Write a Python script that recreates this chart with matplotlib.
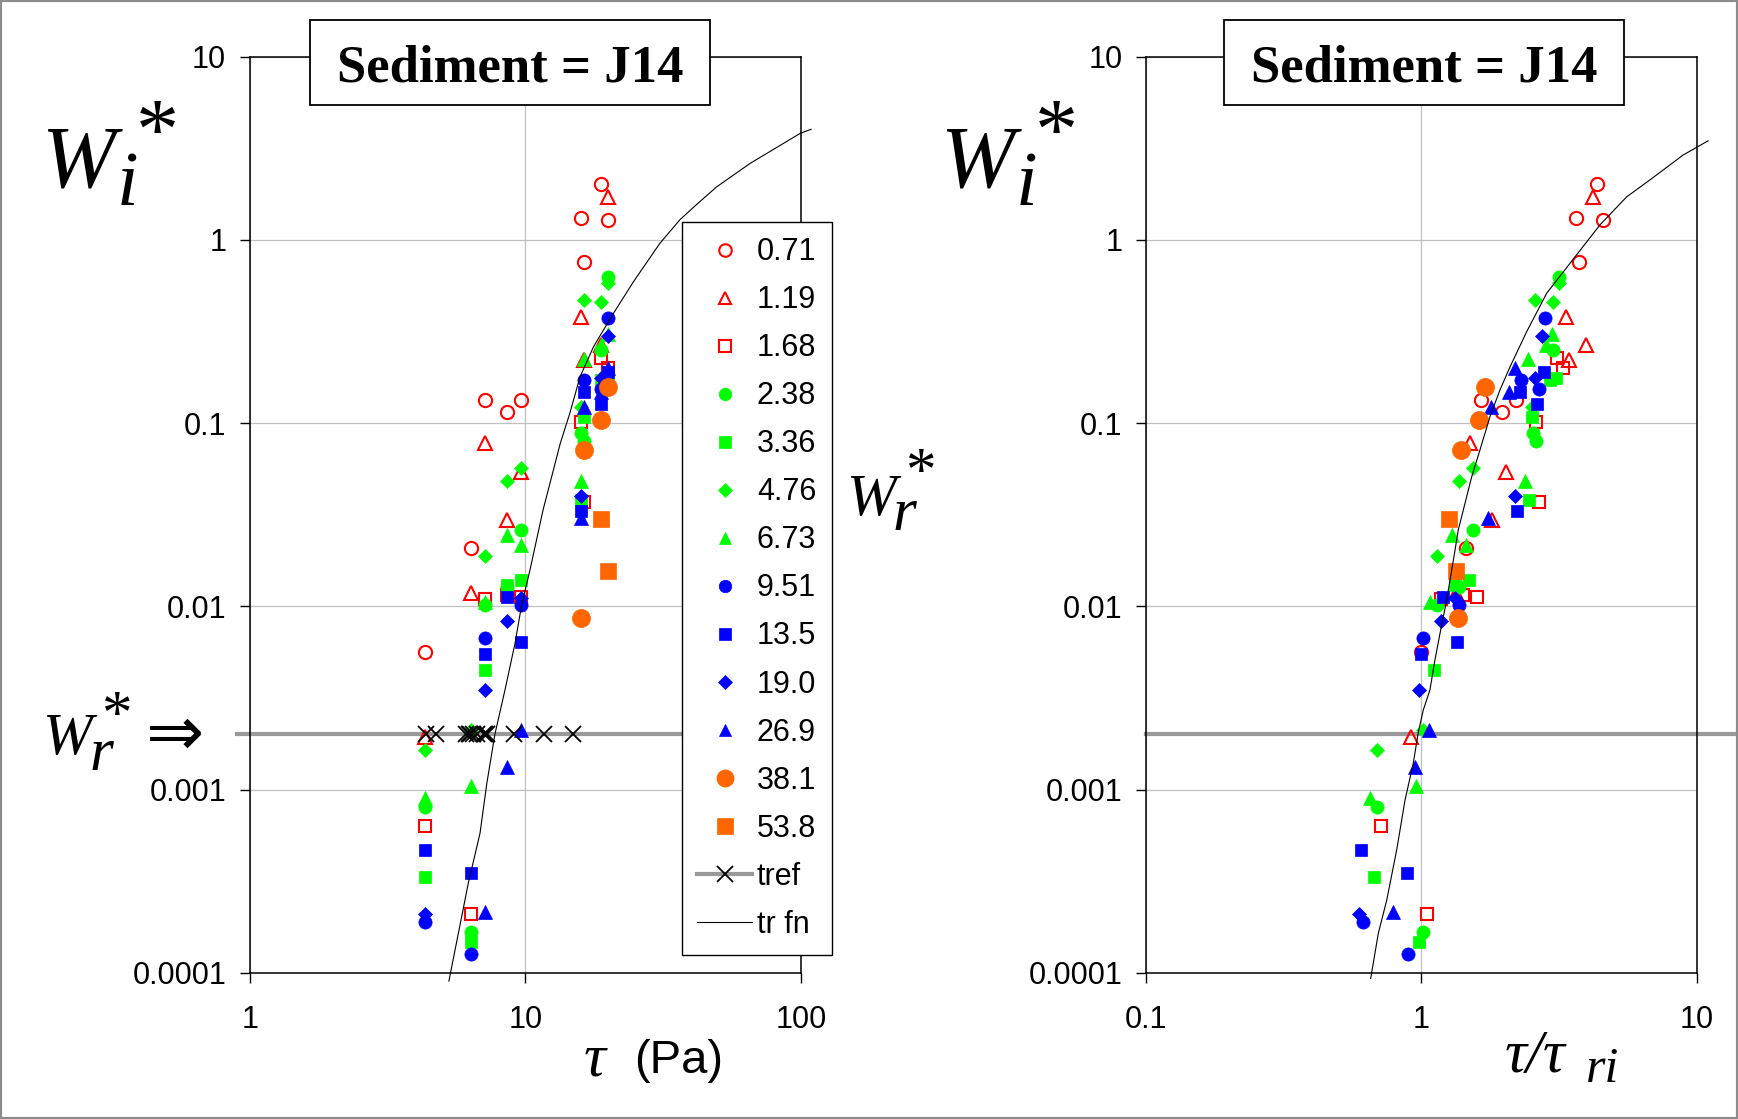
import numpy as np
import matplotlib.pyplot as plt
from matplotlib.lines import Line2D
from matplotlib.patches import Rectangle
from matplotlib.ticker import FixedLocator, FixedFormatter, NullLocator

W_PX, H_PX, DPI = 1738, 1119, 100

nan = np.nan

# bed shear stress of each flume run (Pa)
run_tau = [4.34, 6.35, 7.16, 8.58, 9.65, 15.9, 16.3, 18.9, 19.9]

# size fractions (mm) and reference shear stress of each fraction (Pa)
sizes = ["0.71", "1.19", "1.68", "2.38", "3.36", "4.76", "6.73",
         "9.51", "13.5", "19.0", "26.9", "38.1", "53.8"]
tau_ri = [4.36, 4.75, 6.07, 6.27, 6.46, 6.28, 6.66,
          7.07, 7.16, 7.28, 9.07, 11.7, 14.94]

# dimensionless transport rate Wi* per fraction, one value per run
W_071 = [0.00562, 0.0208, 0.134, 0.115, 0.134, 1.31, 0.755, 2.02, 1.29]
W_119 = [0.00194, 0.0118, 0.0783, 0.0296, 0.0543, 0.381, 0.221, 0.267, 1.72]
W_168 = [0.000633, 0.000208, 0.0109, 0.0115, 0.0113, 0.102, 0.037, 0.226, 0.1995]
W_238 = [0.000807, 0.000166, 0.0102, 0.0128, 0.0261, 0.088, 0.080, 0.251, 0.630]
W_336 = [0.000335, 0.000148, 0.0045, 0.0131, 0.0139, 0.038, 0.108, 0.172, 0.176]
W_476 = [0.00164, 0.00211, 0.0188, 0.0485, 0.0567, 0.123, 0.470, 0.460, 0.58]
W_673 = [0.000896, 0.00104, 0.0106, 0.0245, 0.0216, 0.0484, 0.223, 0.267, 0.307]
W_951 = [0.000188, 0.000126, 0.0067, nan, 0.0102, nan, 0.172, 0.153, 0.374]
W_135 = [0.00047, 0.00035, 0.0055, 0.0113, 0.0064, 0.033, 0.148, 0.127, 0.19]
W_190 = [0.00021, nan, 0.0035, 0.0083, 0.0111, 0.040, nan, 0.176, 0.30]
W_269 = [nan, nan, 0.000215, 0.00132, 0.0021, 0.0303, 0.123, 0.1485, 0.1995]
W_381 = [nan, nan, nan, nan, nan, 0.0086, 0.0714, 0.104, 0.157]
W_538 = [nan, nan, nan, nan, nan, nan, nan, 0.030, 0.0155]
W_all = [W_071, W_119, W_168, W_238, W_336, W_476, W_673,
         W_951, W_135, W_190, W_269, W_381, W_538]

# reference transport rate
W_ref = 0.002

# transport function, drawn against tau (Pa)
trfn_tau = [5.28, 6.21, 6.85, 7.25, 7.76, 8.44, 9.18, 9.70, 10.4, 11.6, 13.4,
            14.5, 15.8, 17.7, 20.9, 24.7, 30.8, 36.4, 43.0, 49.5, 65.5, 99.5, 109]
trfn_W_tau = [9.0e-5, 3.08e-4, 5.78e-4, 1.08e-3, 2.01e-3, 3.5e-3, 6.3e-3, 0.0102,
              0.0158, 0.0336, 0.0777, 0.113, 0.179, 0.262, 0.398, 0.592, 0.959,
              1.29, 1.62, 1.95, 2.62, 3.82, 4.02]

# transport function, drawn against tau/tau_ri
trfn_phi = [0.655, 0.698, 0.749, 0.814, 0.873, 0.935, 0.975, 1.017, 1.075, 1.121,
            1.169, 1.236, 1.326, 1.362, 1.441, 1.524, 1.633, 1.776, 1.931, 2.10,
            2.414, 2.853, 3.467, 4.456, 5.57, 6.77, 8.93, 11.0]
trfn_W_phi = [9.3e-5, 1.64e-4, 2.49e-4, 4.68e-4, 8.77e-4, 1.39e-3, 2.05e-3, 2.72e-3,
              3.5e-3, 5.1e-3, 7.1e-3, 0.0108, 0.0203, 0.0261, 0.0365, 0.051, 0.0714,
              0.1086, 0.152, 0.203, 0.316, 0.512, 0.746, 1.21, 1.72, 2.13, 2.91, 3.48]

RED, GREEN, BLUE, ORANGE = "#FF0000", "#00FF00", "#0000FF", "#FF6600"
# marker, colour, filled, size (pt)
styles = [
    ("o", RED, False, 9.5), ("^", RED, False, 9.5), ("s", RED, False, 9.0),
    ("o", GREEN, True, 9.5), ("s", GREEN, True, 9.0), ("D", GREEN, True, 7.0),
    ("^", GREEN, True, 9.5),
    ("o", BLUE, True, 9.5), ("s", BLUE, True, 9.0), ("D", BLUE, True, 7.0),
    ("^", BLUE, True, 9.5),
    ("o", ORANGE, True, 13.0), ("s", ORANGE, True, 12.0),
]

SANS = "Liberation Sans"
SERIF = "Liberation Serif"
plt.rcParams["font.family"] = [SANS, "DejaVu Sans"]


def fx(px):
    return px / W_PX


def fy(py):
    return 1 - py / H_PX


fig = plt.figure(figsize=(W_PX / DPI, H_PX / DPI), dpi=DPI)
fig.patch.set_facecolor("white")

ax1 = fig.add_axes([fx(249.8), fy(972.7), fx(800.8) - fx(249.8), fy(56.8) - fy(972.7)])
ax2 = fig.add_axes([fx(1145.9), fy(972.7), fx(1696.7) - fx(1145.9), fy(56.8) - fy(972.7)])


def style_axes(ax, xlim, xticks, xlabels):
    ax.set_xscale("log")
    ax.set_yscale("log")
    ax.set_xlim(*xlim)
    ax.set_ylim(1e-4, 10)
    ax.xaxis.set_major_locator(FixedLocator(xticks))
    ax.xaxis.set_major_formatter(FixedFormatter(xlabels))
    ax.yaxis.set_major_locator(FixedLocator([1e-4, 1e-3, 1e-2, 1e-1, 1, 10]))
    ax.yaxis.set_major_formatter(FixedFormatter(["0.0001", "0.001", "0.01", "0.1", "1", "10"]))
    ax.xaxis.set_minor_locator(NullLocator())
    ax.yaxis.set_minor_locator(NullLocator())
    ax.tick_params(direction="out", length=7, width=1.0, labelsize=22)
    ax.tick_params(axis="y", pad=10)
    ax.tick_params(axis="x", pad=16)
    ax.grid(True, color="#c0c0c0", linewidth=0.9)
    ax.set_axisbelow(True)
    for s in ax.spines.values():
        s.set_linewidth(1.1)
        s.set_color("black")


style_axes(ax1, (1, 100), [1, 10, 100], ["1", "10", "100"])
style_axes(ax2, (0.1, 10), [0.1, 1, 10], ["0.1", "1", "10"])

tau = np.array(run_tau)
handles = []
for k, (lab, wv) in enumerate(zip(sizes, W_all)):
    m, c, filled, ms = styles[k]
    kw = dict(linestyle="none", marker=m, markersize=ms, zorder=3 + k * 0.01)
    if filled:
        kw.update(markerfacecolor=c, markeredgecolor=c, markeredgewidth=0.5)
    else:
        kw.update(markerfacecolor="none", markeredgecolor=c, markeredgewidth=1.5)
    wv = np.array(wv)
    h, = ax1.plot(tau, wv, label=lab, **kw)
    ax2.plot(tau / tau_ri[k], wv, **kw)
    handles.append(h)

# reference level and reference stresses
ax1.plot([0.9, 100], [W_ref, W_ref], color="#999999", lw=3, zorder=2.5, clip_on=False)
ax1.plot(tau_ri, [W_ref] * len(tau_ri), linestyle="none", marker="x", color="black",
         markersize=12, markeredgewidth=1.3, zorder=3.5)
ax2.plot([0.1, 15], [W_ref, W_ref], color="#999999", lw=3, zorder=2.5, clip_on=False)

# transport function
ax1.plot(trfn_tau, trfn_W_tau, color="black", lw=0.8, zorder=4, clip_on=False)
ax2.plot(trfn_phi, trfn_W_phi, color="black", lw=0.8, zorder=4, clip_on=False)

handles.append(Line2D([], [], color="#999999", lw=3, marker="x", markersize=12,
                      markeredgecolor="black", markeredgewidth=1.3, label="tref"))
handles.append(Line2D([], [], color="black", lw=0.8, label="tr fn"))
leg = fig.legend(handles=handles, loc="upper left", bbox_to_anchor=(fx(682), fy(222)),
                 fontsize=22, frameon=True, fancybox=False, edgecolor="black",
                 framealpha=1, borderpad=0.5, labelspacing=0.59, handlelength=1.8,
                 handletextpad=0.15, borderaxespad=0, markerscale=0.95)
leg.get_frame().set_linewidth(1.0)
leg.set_zorder(10)

# "Sediment = J14" boxes
for x0 in (310, 1224):
    fig.patches.append(Rectangle((fx(x0), fy(105)), fx(400), 85 / H_PX,
                                 transform=fig.transFigure, facecolor="white",
                                 edgecolor="black", linewidth=1.3, zorder=5))
    fig.text(fx(x0 + 200), fy(68), "Sediment = J14", family=SERIF, weight="bold",
             fontsize=38, ha="center", va="center", zorder=6)

# axis symbols
ital = dict(family=SERIF, style="italic", va="baseline", ha="left")
for xw in (41, 940):
    fig.text(fx(xw), fy(187), "W", fontsize=64, **ital)
    fig.text(fx(xw + 76), fy(205), "i", fontsize=56, **ital)
    fig.text(fx(xw + 95), fy(158), "*", fontsize=62, family=SERIF, va="baseline", ha="left")

fig.text(fx(42), fy(754), "W", fontsize=43, **ital)
fig.text(fx(90), fy(770), "r", fontsize=44, **ital)
fig.text(fx(101), fy(732), "*", fontsize=44, family=SERIF, va="baseline", ha="left")
fig.text(fx(174), fy(735), "\u21d2", fontsize=50, family="DejaVu Sans", ha="center", va="center")

fig.text(fx(846), fy(515), "W", fontsize=43, **ital)
fig.text(fx(893), fy(530), "r", fontsize=44, **ital)
fig.text(fx(905), fy(489), "*", fontsize=44, family=SERIF, va="baseline", ha="left")

# x labels
fig.text(fx(584), fy(1075), "\u03c4", fontsize=44, **ital)
fig.text(fx(634), fy(1073), "(Pa)", fontsize=34, family=SANS, ha="left", va="baseline")
fig.text(fx(1505), fy(1072), "\u03c4/\u03c4", fontsize=44, **ital)
fig.text(fx(1586), fy(1082), "ri", fontsize=36, **ital)

# page frame
fig.patches.append(Rectangle((0, 0), 1, 1, transform=fig.transFigure, facecolor="none",
                             edgecolor="#8c8c8c", linewidth=3, zorder=20))

fig.savefig("out.png", dpi=DPI, facecolor="white")
